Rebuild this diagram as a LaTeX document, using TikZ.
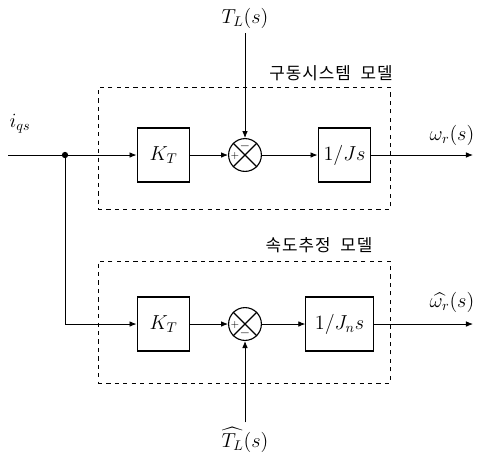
\documentclass[tikz,border=0pt]{standalone}
\usepackage{fontspec}
\usepackage{amsmath}
\newfontfamily\krfont[LetterSpace=6]{Noto Sans CJK KR}
\usetikzlibrary{arrows.meta,positioning,calc}

\begin{document}
\begin{tikzpicture}[x=0.025cm, y=-0.025cm,
    blk/.style={rectangle, draw=black, thick, minimum width=1.32cm, minimum height=1.35cm, font=\Large},
    sumj/.style={circle, draw=black, thick, minimum size=0.82cm, inner sep=0pt},
    model/.style={rectangle, draw=black, dashed, minimum width=7.3cm, minimum height=3.05cm},
    sig/.style={font=\Large},
    kr/.style={font=\krfont\large},
    arr/.style={-{Latex[length=5pt,width=4pt]}, semithick},
    wire/.style={semithick}
]
\useasboundingbox (0,0) rectangle (478,456);

% dashed model frames
\node[model] (drive) at (244,148.5) {};
\node[model] (est) at (244,322) {};
\node[kr] (drivelbl) at (331,73) {구동시스템\ \ 모델};
\node[kr] (estlbl) at (319,245) {속도추정\ \ 모델};

% upper path: drive system
\node[blk] (kt1) at (163.5,155) {$K_T$};
\node[sumj] (s1) at (245,155) {};
\node[blk] (js1) at (344.5,155) {$1/Js$};
\draw[thick] (s1.north west) -- (s1.south east) (s1.north east) -- (s1.south west);
\node[font=\small] at ($(s1.center)+(0,-9)$) {$-$};
\node[font=\scriptsize] at ($(s1.center)+(-10,1)$) {$+$};

% lower path: speed estimator
\node[blk] (kt2) at (163.5,324) {$K_T$};
\node[sumj] (s2) at (245,324) {};
\node[blk, minimum width=1.68cm] (js2) at (339.5,324) {$1/J_n s$};
\draw[thick] (s2.north west) -- (s2.south east) (s2.north east) -- (s2.south west);
\node[font=\small] at ($(s2.center)+(0,9)$) {$-$};
\node[font=\scriptsize] at ($(s2.center)+(-10,1)$) {$+$};

% signals
\node[sig] (iqs) at (20,124) {$i_{qs}$};
\coordinate (in) at (8,155);
\node[circle, fill=black, inner sep=0pt, minimum size=4.5pt] (br) at (65,155) {};
\coordinate (corner) at (65,324);
\node[sig] (tl) at (245,18) {$T_L(s)$};
\node[sig] (tlh) at (245,440) {$\widehat{T_L}(s)$};
\coordinate (out1) at (473,155);
\coordinate (out2) at (473,324);
\node[sig] (w1) at (452,135) {$\omega_r(s)$};
\node[sig] (w2) at (452,302) {$\widehat{\omega_r}(s)$};

\draw[wire] (in) -- (br);
\draw[arr] (br) -- (kt1);
\draw[arr] (kt1) -- (s1);
\draw[arr] (s1) -- (js1);
\draw[arr] (js1) -- (out1);
\draw[arr] (tl) -- (s1);

\draw[wire] (br) -- (corner);
\draw[arr] (corner) -- (kt2);
\draw[arr] (kt2) -- (s2);
\draw[arr] (s2) -- (js2);
\draw[arr] (js2) -- (out2);
\draw[arr] (tlh) -- (s2);
\end{tikzpicture}
\end{document}
